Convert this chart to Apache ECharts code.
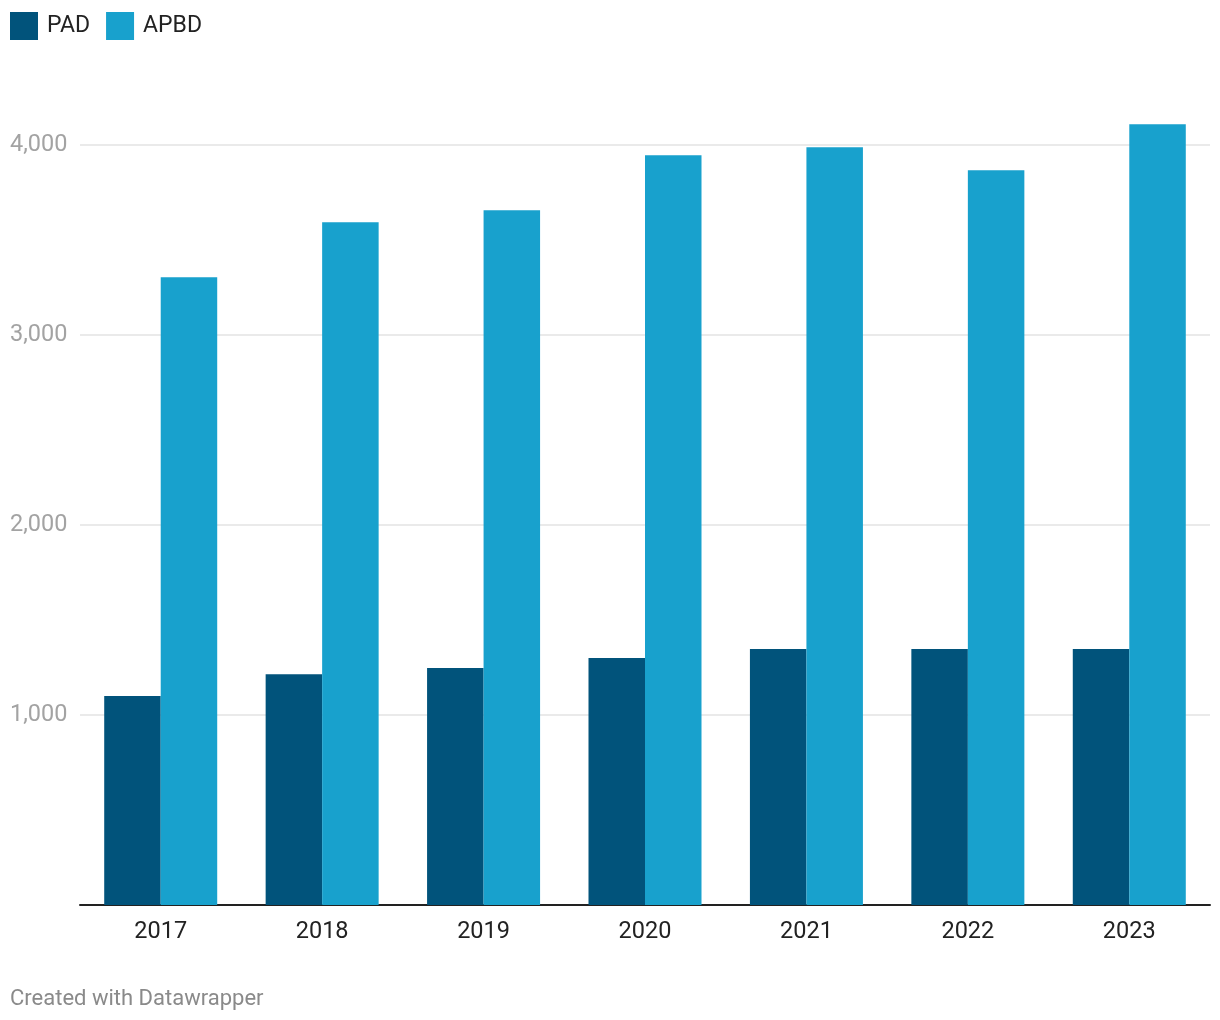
<!DOCTYPE html>
<html>
<head>
<meta charset="utf-8">
<script src="https://cdn.jsdelivr.net/npm/echarts@6/dist/echarts.min.js"></script>
<style>
html,body{margin:0;padding:0;background:#fff;}
#chart{width:1220px;height:1020px;}
</style>
</head>
<body>
<div id="chart"></div>
<script>
const categories = ['2017','2018','2019','2020','2021','2022','2023'];
const padValues = [1100, 1215, 1247, 1300, 1347, 1347, 1347];
const apbdValues = [3304, 3593, 3656, 3946, 3988, 3867, 4109];
const seriesNames = ['PAD', 'APBD'];
const yTicks = [1000, 2000, 3000, 4000];
const footerText = 'Created with Datawrapper';

const chart = echarts.init(document.getElementById('chart'), null, {renderer: 'canvas'});
const font = 'Roboto, "Noto Sans", sans-serif';
chart.setOption({
  animation: false,
  backgroundColor: '#ffffff',
  color: ['#01537b', '#18a1cd'],
  legend: {
    left: 10, top: 12, padding: 0,
    itemWidth: 28, itemHeight: 28, itemGap: 16,
    icon: 'rect',
    textStyle: {fontFamily: font, fontSize: 23, color: '#222', padding: [5, 0, 0, 4]},
    data: seriesNames
  },
  grid: {left: 80, right: 10, top: 107, bottom: 115, containLabel: false},
  xAxis: {
    type: 'category',
    data: categories,
    axisLine: {show: true, lineStyle: {color: '#222', width: 2}},
    axisTick: {show: false},
    axisLabel: {fontFamily: font, fontSize: 23.5, color: '#222', margin: 15}
  },
  yAxis: {
    type: 'value',
    min: 0, max: 4200, interval: 1000,
    axisLine: {show: false},
    axisTick: {show: false},
    splitLine: {show: true, showMinLine: false, showMaxLine: false, lineStyle: {color: '#e3e3e3', width: 1.5}},
    axisLabel: {
      fontFamily: font, fontSize: 23.5, color: '#a3a3a3',
      align: 'left', margin: 70, padding: [3, 0, 0, 0],
      showMinLabel: false, showMaxLabel: false,
      formatter: function (v) { return yTicks.indexOf(v) >= 0 ? v.toLocaleString('en-US') : ''; }
    }
  },
  series: [
    {name: seriesNames[0], type: 'bar', data: padValues, barWidth: 56.5, barGap: '0%'},
    {name: seriesNames[1], type: 'bar', data: apbdValues, barWidth: 56.5, barGap: '0%'}
  ],
  graphic: [{
    type: 'text', left: 10, top: 988,
    style: {text: footerText, fontFamily: font, fontSize: 22, fill: '#8a8a8a'}
  }]
});
</script>
</body>
</html>
